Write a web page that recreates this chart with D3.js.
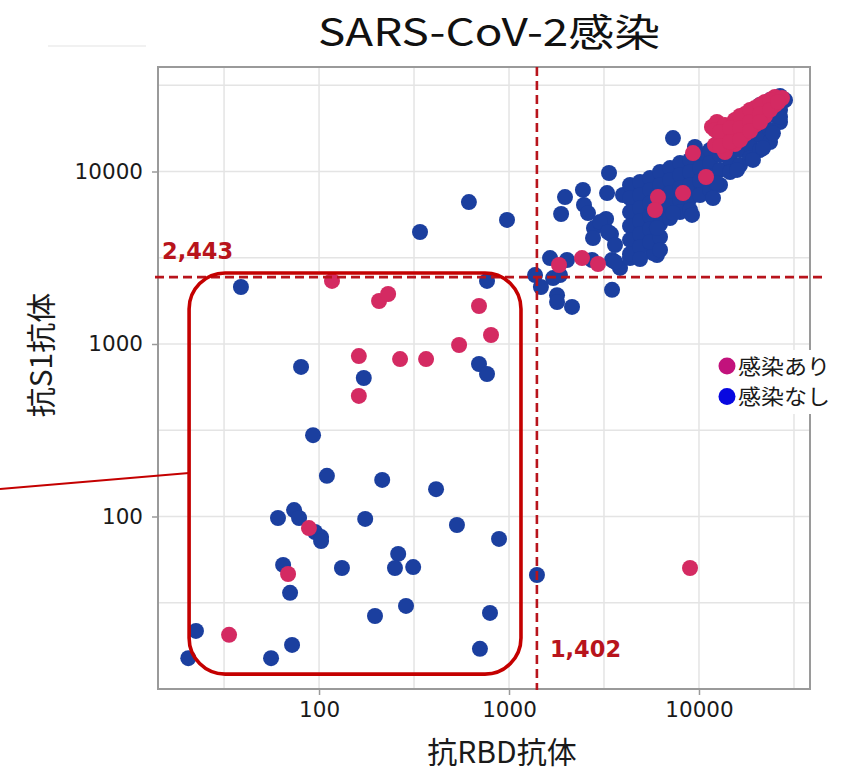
<!DOCTYPE html>
<html>
<head>
<meta charset="utf-8">
<script src="https://cdn.jsdelivr.net/npm/d3@7"></script>
<style>
  html, body { margin: 0; padding: 0; background: #fff; }
  svg { display: block; }
</style>
</head>
<body>
<svg id="chart" width="844" height="772"></svg>
<script>
// Antibody titers: [anti-RBD, anti-S1]
const negative = [
  // low / scattered
  [38.8, 2140], [766, 2320], [80.4, 736], [695, 766], [766, 670], [172, 635],
  [93, 296], [110, 172], [215, 163], [413, 144], [73.9, 109], [78.5, 98],
  [60.8, 98], [95.2, 81.3], [102.5, 76], [102.5, 72], [175, 96.8], [532, 89.3],
  [886, 74.1], [261, 60.7], [251, 50.3], [313, 50.9], [132, 50.3], [64.7, 52.4],
  [70.4, 36.1], [197, 26.5], [287, 30.3], [794, 27.6], [22.5, 21.7], [72.1, 18.0],
  [20.5, 15.1], [55.9, 15.1], [703, 17.1], [1403, 45.8],
  [340, 4460], [615, 6650], [976, 5240],
  // around the cut-offs
  [1371, 2510], [1472, 2140], [1706, 2410], [1854, 2510], [1644, 3150],
  [2019, 3070], [1790, 1920], [1790, 1750], [2146, 1640], [3486, 2060],
  [2735, 3070], [3486, 3070], [3840, 2760], [4335, 3150], [4775, 3200],
  [6010, 3280], [5728, 3370], [3613, 2990],
  // middle
  [3360, 9800], [1971, 7110], [1880, 5670], [2449, 7820], [3282, 7500],
  [2481, 6400], [2605, 5740], [3243, 5310], [2800, 4700], [3443, 4340],
  [2768, 4110], [3981, 7310], [3013, 5090], [3320, 4460], [3613, 3750],
  [7295, 15630], [9521, 13870],
  // main cluster
  [4335, 8360], [4335, 7020], [4335, 5820], [4335, 4830], [4335, 4010], [4335, 3330],
  [4893, 8690], [4893, 7310], [4893, 6140], [4893, 5160], [4893, 4340], [4893, 3650], [4893, 3110],
  [5524, 9170], [5524, 7820], [5524, 6560], [5524, 5520], [5524, 4640], [5524, 3900],
  [6235, 9930], [6235, 8360], [6235, 7020], [6235, 5900], [6235, 4960], [6235, 4170], [6235, 3510],
  [7039, 10470], [7039, 8930], [7039, 7500], [7039, 6310], [7039, 5370],
  [7946, 11200], [7946, 9550], [7946, 8020], [7946, 6840], [7946, 5820],
  [8970, 11670], [8970, 9930], [8970, 8360], [8970, 7020], [8970, 5980],
  [10127, 12470], [10127, 10470], [10127, 8810], [10127, 7310],
  [11432, 13330], [11432, 11200], [11432, 9420], [11432, 7820],
  [12905, 15240], [12905, 12470], [12905, 10210], [12905, 8360],
  [14568, 17420], [14568, 14260], [14568, 11670], [14568, 9930],
  [16445, 19910], [16445, 16290], [16445, 13330], [16445, 10910],
  [18564, 22130], [18564, 17860], [18564, 14260], [18564, 11970],
  [20956, 24320], [20956, 19910], [20956, 16290], [20956, 13330],
  [23657, 25950], [23657, 21280], [23657, 17420], [23657, 14830],
  [26705, 27390], [26705, 22740], [26705, 19360], [28380, 25950],
  [11850, 7020], [9186, 5600], [7295, 5740], [6010, 4700], [12280, 8580],
  [15850, 10210], [19230, 11670], [21730, 13680], [24500, 16660], [26705, 20700]
];

const positive = [
  [117, 2320], [207, 1775], [231, 1950], [695, 1660], [804, 1128], [546, 987],
  [162, 851], [267, 818], [366, 818], [162, 500], [88.5, 85.7], [68.7, 46.4],
  [33.6, 20.6], [8970, 50.3],
  [1833, 2870], [2422, 3150], [2940, 2910],
  [9296, 12790], [10890, 9290], [8240, 7500], [6080, 7110], [5865, 5980],
  [11700, 18110], [12430, 19360], [12140, 17420], [12140, 14260], [13700, 12970],
  [13700, 18620], [13700, 15630], [15460, 19910], [15460, 16940], [15460, 14420],
  [17460, 21530], [17460, 18840], [17460, 16480], [19710, 23340], [19710, 20700],
  [19710, 18620], [22240, 25290], [22240, 22740], [22240, 20990], [25110, 27040],
  [25110, 24320], [27360, 26670], [12905, 16940], [12905, 14060], [14568, 17860],
  [14568, 14830], [16445, 20990], [16445, 17860], [16445, 15240], [18564, 22740],
  [18564, 19360], [18564, 17180], [20956, 24320], [20956, 21530], [20956, 19360],
  [23657, 25950], [23657, 22740], [26070, 25290]
];

const cutoffRBD = 1402;
const cutoffS1 = 2443;

const xTicks = [100, 1000, 10000];
const yTicks = [100, 1000, 10000];
const gridValues = [31.62, 100, 316.2, 1000, 3162, 10000, 31623];

// region of low titers highlighted with a rounded box
const lowBoxRBD = [20.7, 1156];
const lowBoxS1 = [12.2, 2580];

const legendLabels = ["感染あり", "感染なし"];

const title = "SARS-CoV-2感染";
const xTitle = "抗RBD抗体";
const yTitle = "抗S1抗体";

// ---- layout ----
const plot = { left: 158, right: 810, top: 67, bottom: 689 };
const colors = { neg: "#1b3f9f", pos: "#d42a62", cut: "#b8141c", box: "#c40000",
                 legPos: "#c2127c", legNeg: "#0808e0" };

const svg = d3.select("#chart");

const x = d3.scaleLog().domain([14.2, 38400]).range([plot.left, plot.right]);
const y = d3.scaleLog().domain([10, 40000]).range([plot.bottom, plot.bottom - 172.5 * Math.log10(4000)]);

// grid
const grid = svg.append("g");
grid.selectAll("line.gx").data(gridValues.filter(v => x(v) > plot.left && x(v) < plot.right))
  .join("line").attr("class", "gx")
  .attr("x1", d => x(d)).attr("x2", d => x(d))
  .attr("y1", plot.top).attr("y2", plot.bottom)
  .attr("stroke", "#e4e4e4").attr("stroke-width", 1.5);
grid.selectAll("line.gy").data(gridValues.filter(v => y(v) > plot.top && y(v) < plot.bottom))
  .join("line").attr("class", "gy")
  .attr("y1", d => y(d)).attr("y2", d => y(d))
  .attr("x1", plot.left).attr("x2", plot.right)
  .attr("stroke", "#e4e4e4").attr("stroke-width", 1.5);

// faint separator line at top-left
svg.append("line").attr("x1", 48).attr("x2", 146).attr("y1", 46).attr("y2", 46)
  .attr("stroke", "#ececec").attr("stroke-width", 1.5);

// frame
svg.append("rect")
  .attr("x", plot.left).attr("y", plot.top)
  .attr("width", plot.right - plot.left).attr("height", plot.bottom - plot.top)
  .attr("fill", "none").attr("stroke", "#9a9a9a").attr("stroke-width", 2);

// axes
const axisFont = "'DejaVu Sans', Verdana, sans-serif";
const gx = svg.append("g").attr("transform", `translate(0,${plot.bottom})`)
  .call(d3.axisBottom(x).tickValues(xTicks).tickFormat(d3.format("d")).tickSize(6).tickPadding(7));
const gy = svg.append("g").attr("transform", `translate(${plot.left},0)`)
  .call(d3.axisLeft(y).tickValues(yTicks).tickFormat(d3.format("d")).tickSize(6).tickPadding(9));
[gx, gy].forEach(g => {
  g.select(".domain").remove();
  g.selectAll(".tick line").attr("stroke", "#9a9a9a").attr("stroke-width", 1.5);
  g.selectAll(".tick text").attr("fill", "#1a1a1a")
    .style("font-family", axisFont).style("font-size", "21.5px");
});

// points
const dots = svg.append("g");
dots.selectAll("circle.neg").data(negative).join("circle").attr("class", "neg")
  .attr("cx", d => x(d[0])).attr("cy", d => y(d[1])).attr("r", 8)
  .attr("fill", colors.neg);
dots.selectAll("circle.pos").data(positive).join("circle").attr("class", "pos")
  .attr("cx", d => x(d[0])).attr("cy", d => y(d[1])).attr("r", 8)
  .attr("fill", colors.pos);

// cut-off lines
svg.append("line")
  .attr("x1", plot.left - 3).attr("x2", plot.right + 16)
  .attr("y1", y(cutoffS1)).attr("y2", y(cutoffS1))
  .attr("stroke", colors.cut).attr("stroke-width", 2.6).attr("stroke-dasharray", "9,5");
svg.append("line")
  .attr("x1", x(cutoffRBD)).attr("x2", x(cutoffRBD))
  .attr("y1", plot.top).attr("y2", plot.bottom + 1)
  .attr("stroke", colors.cut).attr("stroke-width", 2.6).attr("stroke-dasharray", "9,5");

const fmt = d3.format(",");
svg.append("text").text(fmt(cutoffS1))
  .attr("x", plot.left + 4).attr("y", y(cutoffS1) - 18)
  .attr("fill", colors.cut).style("font-family", axisFont)
  .style("font-weight", "bold").style("font-size", "22.5px");
svg.append("text").text(fmt(cutoffRBD))
  .attr("x", x(cutoffRBD) + 13).attr("y", plot.bottom - 32)
  .attr("fill", colors.cut).style("font-family", axisFont)
  .style("font-weight", "bold").style("font-size", "22.5px");

// highlighted low-titer region
const bx0 = x(lowBoxRBD[0]), bx1 = x(lowBoxRBD[1]);
const by0 = y(lowBoxS1[1]), by1 = y(lowBoxS1[0]);
svg.append("rect")
  .attr("x", bx0).attr("y", by0).attr("width", bx1 - bx0).attr("height", by1 - by0)
  .attr("rx", 36).attr("ry", 36)
  .attr("fill", "none").attr("stroke", colors.box).attr("stroke-width", 3.6);
svg.append("line")
  .attr("x1", 0).attr("y1", 489).attr("x2", bx0).attr("y2", 473)
  .attr("stroke", colors.box).attr("stroke-width", 2);

// legend
const cjkFont = "'Noto Sans CJK JP', 'Noto Sans', sans-serif";
const legend = svg.append("g");
legend.append("rect").attr("x", 712).attr("y", 350).attr("width", 132).attr("height", 64).attr("fill", "#fff");
const legColors = [colors.legPos, colors.legNeg];
legendLabels.forEach((lab, i) => {
  const cy = 366 + i * 30.5;
  legend.append("circle").attr("cx", 727).attr("cy", cy).attr("r", 8.5).attr("fill", legColors[i]);
  legend.append("text").text(lab).attr("x", 738).attr("y", cy).attr("dy", "0.36em")
    .attr("fill", "#1a1a1a").style("font-family", cjkFont).style("font-size", "21px")
    .attr("textLength", 92).attr("lengthAdjust", "spacingAndGlyphs");
});

// titles
svg.append("text").text(title)
  .attr("x", 318).attr("y", 46)
  .attr("textLength", 342).attr("lengthAdjust", "spacingAndGlyphs")
  .attr("fill", "#111").style("font-family", cjkFont).style("font-size", "38px");
svg.append("text").text(xTitle)
  .attr("x", 502).attr("y", 763).attr("text-anchor", "middle")
  .attr("fill", "#1a1a1a").style("font-family", cjkFont).style("font-size", "30px");
svg.append("text").text(yTitle)
  .attr("transform", "translate(52,355) rotate(-90)").attr("text-anchor", "middle")
  .attr("fill", "#1a1a1a").style("font-family", cjkFont).style("font-size", "30px");
</script>
</body>
</html>
